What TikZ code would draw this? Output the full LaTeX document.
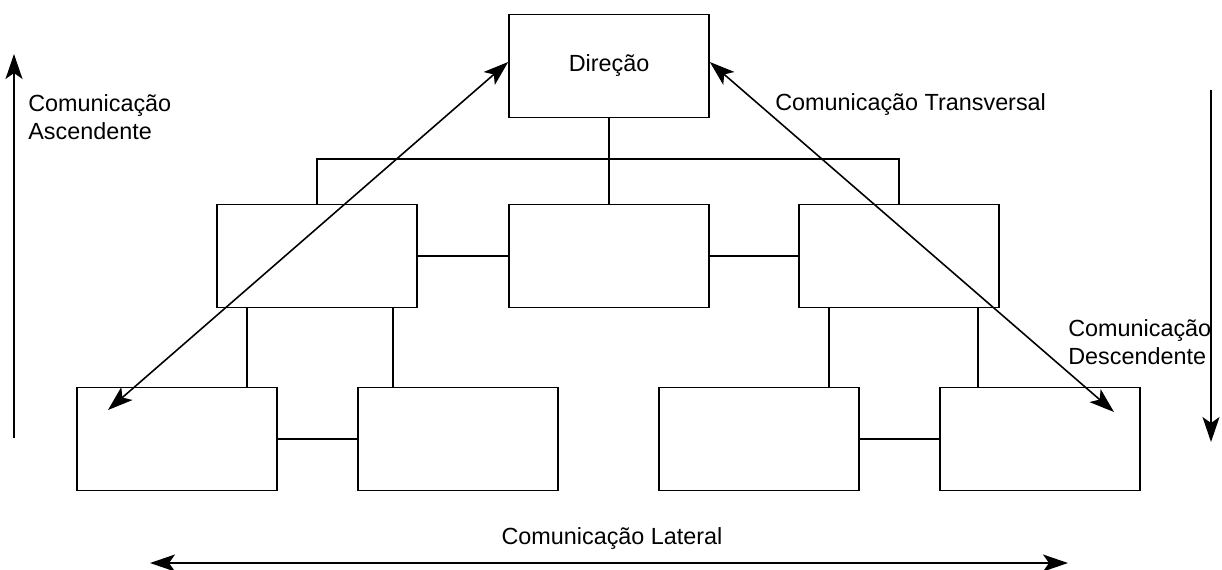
\documentclass[tikz,border=0pt]{standalone}
\usepackage{fontspec}
\setmainfont{Liberation Sans}
\usetikzlibrary{arrows.meta,calc}

\tikzset{
  box/.style={draw, line width=1pt, minimum width=4cm, minimum height=2.06cm, inner sep=0pt},
  link/.style={line width=1pt},
  tip/.style={Stealth[length=0.5cm,width=0.34cm,inset=0.12cm]},
  comm/.style={line width=0.9pt, {Stealth[length=0.5cm,width=0.34cm,inset=0.12cm]}-{Stealth[length=0.5cm,width=0.34cm,inset=0.12cm]}},
  commone/.style={line width=0.9pt, -{Stealth[length=0.5cm,width=0.34cm,inset=0.12cm]}},
  lbl/.style={inner sep=0pt, font=\fontsize{13.3}{15.8}\selectfont, align=left}
}

\begin{document}
\begin{tikzpicture}[x=0.02cm, y=-0.02cm]
\useasboundingbox (0,0) rectangle (1222,569);

% chefia
\node[box, font=\fontsize{13.3}{15.8}\selectfont] (dir) at (609,66) {Direção};
% segundo nivel
\node[box] (gl) at (317,256) {};
\node[box] (gc) at (609,256) {};
\node[box] (gr) at (899,256) {};
% terceiro nivel
\node[box] (s1) at (177,439) {};
\node[box] (s2) at (458,439) {};
\node[box] (s3) at (759,439) {};
\node[box] (s4) at (1040,439) {};

% ligacoes
\draw[link] (dir.south) -- (gc.north);
\draw[link] (gl.north) -- ++(0,-45) -| (gr.north);
\draw[link] (gl) -- (gc);
\draw[link] (gc) -- (gr);
\draw[link] ([xshift=0.62cm]gl.south west) -- ([xshift=0.62cm]gl.south west |- s1.north);
\draw[link] ([xshift=-0.5cm]gl.south east) -- ([xshift=-0.5cm]gl.south east |- s2.north);
\draw[link] ([xshift=0.62cm]gr.south west) -- ([xshift=0.62cm]gr.south west |- s3.north);
\draw[link] ([xshift=-0.44cm]gr.south east) -- ([xshift=-0.44cm]gr.south east |- s4.north);
\draw[link] (s1) -- (s2);
\draw[link] (s3) -- (s4);

% comunicacao transversal
\coordinate (tl) at (108,410);
\coordinate (tr) at (1114,412);
\draw[comm] ($(dir.west)+(0,-4)$) -- (tl);
\draw[comm] ($(dir.east)+(0,-4)$) -- (tr);

% ascendente / descendente / lateral
\coordinate (up0) at (14,438);
\coordinate (up1) at (14,54);
\coordinate (dn0) at (1211,90);
\coordinate (dn1) at (1211,442);
\coordinate (lat0) at (150,563);
\coordinate (lat1) at (1068,563);
\draw[commone] (up0) -- (up1);
\draw[commone] (dn0) -- (dn1);
\draw[comm] (lat0) -- (lat1);

\node[lbl, anchor=west] (asc) at (28,117) {Comunicação\\Ascendente};
\node[lbl, anchor=west] (trv) at (775,105) {Comunicação Transversal};
\node[lbl, anchor=west] (desc) at (1068,342) {Comunicação\\Descendente};
\node[lbl] (lat) at (612,538) {Comunicação Lateral};
\end{tikzpicture}
\end{document}
